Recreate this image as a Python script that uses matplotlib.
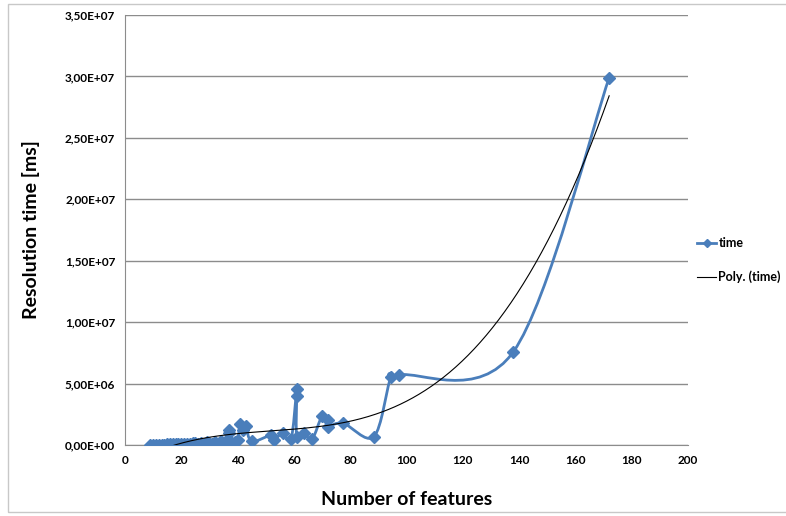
import numpy as np
import matplotlib
matplotlib.use("Agg")
import matplotlib.pyplot as plt
from matplotlib.path import Path
from matplotlib.patches import PathPatch, Rectangle
from matplotlib.ticker import FuncFormatter, MultipleLocator
from matplotlib.lines import Line2D

# number of features vs resolution time [ms]
features = [9, 10, 11, 12, 13, 14, 15, 16, 17, 18, 19, 20, 21, 22, 23, 24,
            25, 26, 27, 28, 29, 30, 31, 32, 33, 34, 35, 36, 37, 37, 38, 39,
            40, 41, 42, 43, 45, 52, 53, 56, 59, 61, 61, 61, 63.5, 66.5, 70,
            72, 72, 77.5, 88.4, 94.4, 97.4, 138, 172]
times = [1e4, 2e4, 2e4, 3e4, 3e4, 4e4, 5e4, 6e4, 6e4, 8e4, 9e4, 1.0e5, 8e4,
         1.2e5, 1.0e5, 1.5e5, 2.0e5, 1.0e5, 1.8e5, 1.2e5, 2.2e5, 1.5e5, 5e4,
         2.5e5, 1.0e5, 3.0e5, 1.5e5, 3.0e5, 1.2e6, 9.8e5, 1.5e5, 2.5e5,
         4.0e5, 1.75e6, 1.25e6, 1.52e6, 3.0e5, 8.1e5, 4.0e5, 9.5e5, 4.6e5,
         4.53e6, 3.99e6, 6.8e5, 9.5e5, 4.9e5, 2.36e6, 2.03e6, 1.5e6, 1.77e6,
         6.8e5, 5.5e6, 5.7e6, 7.6e6, 2.99e7]

BLUE = "#4a7ebb"
GRID = "#8c8c8c"
FONT = "Lato"


def smooth_path(xs, ys):
    # Catmull-Rom style smoothing like the spreadsheet "smoothed line"
    pts = np.column_stack([xs, ys])
    n = len(pts)
    verts = [pts[0]]
    codes = [Path.MOVETO]
    for i in range(n - 1):
        p0 = pts[i - 1] if i > 0 else pts[i]
        p1 = pts[i]
        p2 = pts[i + 1]
        p3 = pts[i + 2] if i + 2 < n else pts[i + 1]
        c1 = p1 + (p2 - p0) / 6.0
        c2 = p2 - (p3 - p1) / 6.0
        verts += [c1, c2, p2]
        codes += [Path.CURVE4] * 3
    return Path(verts, codes)


fx = np.array(features, dtype=float)
fy = np.array(times, dtype=float)
# polynomial trendline (order 3)
coef = np.polyfit(fx, fy, 3)
tx = np.linspace(fx.min(), fx.max(), 300)
ty = np.polyval(coef, tx)

fig = plt.figure(figsize=(7.86, 5.16), dpi=100)
fig.patches.append(Rectangle((8 / 786, 4 / 516), 1.0, 508 / 516,
                             transform=fig.transFigure, fill=False,
                             edgecolor="#c8c8c8", linewidth=1.0))
ax = fig.add_axes([125 / 786, 71 / 516, 563 / 786, 430 / 516])

ax.add_patch(PathPatch(smooth_path(fx, fy), fill=False, edgecolor=BLUE,
                       linewidth=2.0, zorder=3))
ax.plot(fx, fy, linestyle="none", marker="D", markersize=6, color=BLUE,
        zorder=4)
ax.plot(tx, ty, color="black", linewidth=0.8, zorder=5)

ax.set_xlim(0, 200)
ax.set_ylim(0, 3.5e7)
ax.xaxis.set_major_locator(MultipleLocator(20))
ax.yaxis.set_major_locator(MultipleLocator(5e6))
ax.yaxis.set_major_formatter(FuncFormatter(lambda v, p: f"{v:.2E}".replace(".", ",")))
ax.grid(axis="y", color=GRID, linewidth=1.0)
ax.set_axisbelow(True)
for s in ["top", "right"]:
    ax.spines[s].set_visible(False)
for s in ["left", "bottom"]:
    ax.spines[s].set_color(GRID)
ax.tick_params(length=0, pad=7, labelsize=8.5)
for lab in ax.get_xticklabels() + ax.get_yticklabels():
    lab.set_fontweight("bold")
    lab.set_family(FONT)

ax.set_xlabel("Number of features", fontsize=14, fontweight="bold",
              family=FONT, labelpad=18)
ax.set_ylabel("Resolution time [ms]", fontsize=14, fontweight="bold",
              family=FONT, labelpad=18)

handles = [Line2D([], [], color=BLUE, linewidth=2.0, marker="D", markersize=4.5),
           Line2D([], [], color="black", linewidth=0.8)]
fig.legend(handles, ["time", "Poly. (time)"], loc="upper left",
           bbox_to_anchor=(686 / 786, 290 / 516), frameon=False,
           handlelength=1.5, handletextpad=0.2, labelspacing=1.7,
           prop={"family": FONT, "weight": "bold", "size": 9})

fig.savefig("out.png", dpi=100)
